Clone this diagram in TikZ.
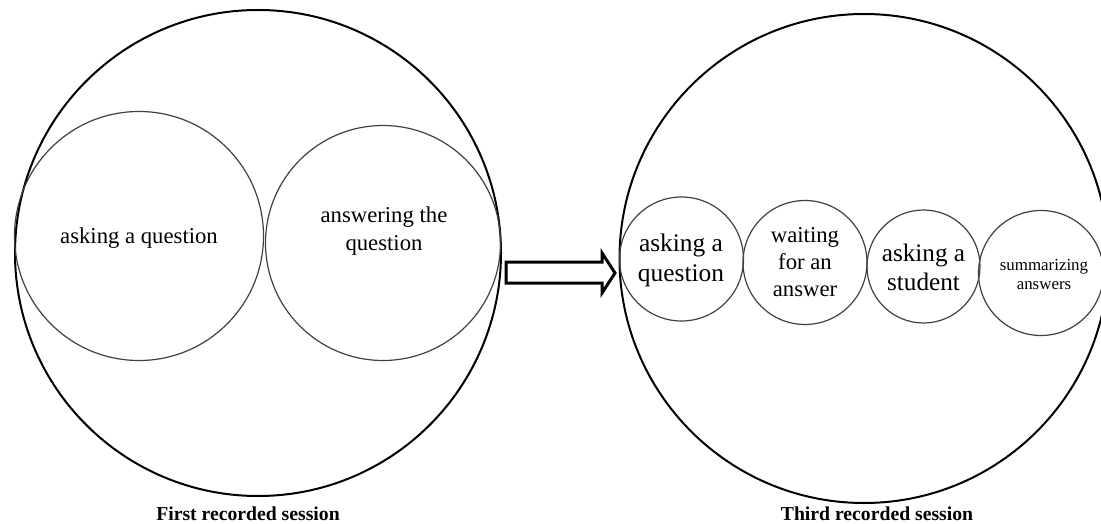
\documentclass[tikz,border=0pt]{standalone}
\usepackage{fontspec}
\setmainfont{Liberation Serif}
\usetikzlibrary{positioning}
\tikzset{
  bigring/.style={circle, draw, line width=2pt, minimum size=#1, inner sep=0pt},
  bigring/.default=480,
  ring/.style={circle, draw=black!75, line width=1.2pt, minimum size=#1, inner sep=0pt},
  ring/.default=120,
  lbl/.style={align=center, inner sep=0pt, font=\fontsize{22.7}{28}\selectfont},
  ttl/.style={inner sep=0pt, font=\bfseries\fontsize{19.7}{22}\selectfont},
}
\begin{document}
\begin{tikzpicture}[x=1pt,y=-1pt]
\useasboundingbox (0,0) rectangle (1101,524);

%First session: outer circle and its two parts
\node[bigring=486] (first) at (258,253) {};
\node[ring=249] (askq) at (139,236) {};
\node[ring=235] (ansq) at (383,243) {};

%Third session: outer circle and its four parts
\node[bigring=489] (third) at (864,258.5) {};
\node[ring=124] (ask) at (681.5,259) {};
\node[ring=124] (wait) at (805,262.5) {};
\node[ring=113] (stud) at (923.5,266.5) {};
\node[ring=125] (summ) at (1041,273) {};

%Right Arrow
\draw[line width=3pt, miter limit=4]  (506,262) -- (602,262) -- (602,253) -- (615,273) -- (602,293) -- (602,283) -- (506,283) -- cycle ;

% Text Node
\node[lbl] (askqtxt) at (askq.center) [yshift=-2pt] {asking a question};
\node[lbl] (ansqtxt) at (384,231) {answering the\\question};
\node[lbl, font=\fontsize{25.4}{30}\selectfont] (asktxt) at (681,260) {asking a\\question};
\node[lbl, font=\fontsize{22.7}{27}\selectfont] (waittxt) at (805,262) {waiting\\for an\\answer};
\node[lbl, font=\fontsize{25.2}{29}\selectfont] (studtxt) at (923.5,267.5) {asking a\\student};
\node[lbl, font=\fontsize{16.9}{19}\selectfont] (summtxt) at (1044,274.5) {summarizing\\answers};
\node[ttl] (firstttl) at (248,514) {First recorded session};
\node[ttl] (thirdttl) at (877,514) {Third recorded session};
\end{tikzpicture}
\end{document}
